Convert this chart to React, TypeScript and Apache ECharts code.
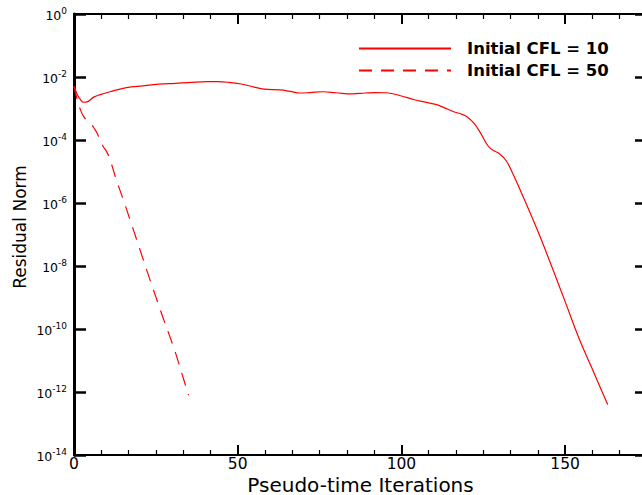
import React, { useEffect, useRef } from 'react';
import * as echarts from 'echarts';

// Initial CFL = 10 (solid)
const cfl10Iter = [0, 1, 2, 3, 4, 6, 8, 11, 16, 21, 26, 31, 36, 41, 44, 47, 51, 55, 58, 63, 66, 69, 72, 76, 80, 85, 89, 92, 95, 97, 100, 104, 107, 109, 111, 113, 116, 118, 120, 122, 124, 126, 127, 128, 130, 132, 134, 136, 139, 142, 146, 150, 154, 158, 161, 163];
const cfl10Residual = [5.1e-3, 2.8e-3, 1.9e-3, 1.58e-3, 1.62e-3, 2.3e-3, 2.75e-3, 3.4e-3, 4.6e-3, 5.25e-3, 5.9e-3, 6.3e-3, 6.8e-3, 7.1e-3, 7.1e-3, 6.8e-3, 6.0e-3, 4.8e-3, 4.1e-3, 3.9e-3, 3.5e-3, 3.1e-3, 3.2e-3, 3.4e-3, 3.16e-3, 2.9e-3, 3.1e-3, 3.2e-3, 3.16e-3, 3.0e-3, 2.5e-3, 1.9e-3, 1.62e-3, 1.45e-3, 1.3e-3, 1.07e-3, 7.9e-4, 6.8e-4, 5.5e-4, 3.55e-4, 1.78e-4, 7.6e-5, 5.6e-5, 4.7e-5, 3.6e-5, 2.2e-5, 8.7e-6, 3.0e-6, 5.8e-7, 1.05e-7, 9.1e-9, 7.4e-10, 5.8e-11, 6.3e-12, 1.2e-12, 4.0e-13];

// Initial CFL = 50 (dashed)
const cfl50Iter = [0, 1, 2, 3, 4, 5, 6, 7, 8, 9, 10, 11, 12, 13, 15, 17, 19, 21, 23, 25, 27, 29, 31, 33, 35];
const cfl50Residual = [5.0e-3, 1.9e-3, 8.9e-4, 5.4e-4, 4.2e-4, 3.5e-4, 2.5e-4, 1.7e-4, 9.5e-5, 6.0e-5, 4.2e-5, 2.4e-5, 1.12e-5, 5.2e-6, 1.32e-6, 3.2e-7, 7.6e-8, 1.78e-8, 4.2e-9, 1.05e-9, 2.6e-10, 6.9e-11, 1.74e-11, 3.7e-12, 7.9e-13];

const seriesNames = ['Initial CFL = 10', 'Initial CFL = 50'];
const xAxisTitle = 'Pseudo-time Iterations';
const yAxisTitle = 'Residual Norm';
const xMin = 0;
const xMax = 175;
const xInterval = 50;
const yMin = 1e-14;
const yMax = 1;
const yDecadeStep = 2;

const FONT = 'DejaVu Sans';

export default function App() {
  const ref = useRef<HTMLDivElement>(null);
  useEffect(() => {
    document.body.style.margin = '0';
    if (!ref.current) return;
    const chart = echarts.init(ref.current, undefined, { renderer: 'svg' });
    const zip = (xs: number[], ys: number[]) => xs.map((x, i) => [x, ys[i]]);
    const xCommon = {
      type: 'value',
      min: xMin,
      max: xMax,
      interval: xInterval,
      axisLine: { show: true, onZero: false, lineStyle: { color: '#000', width: 2 } },
      axisTick: { show: true, inside: true, length: 10, lineStyle: { color: '#000', width: 2 } },
      minorTick: { show: true, splitNumber: 6, length: 5, lineStyle: { color: '#000', width: 1.2 } },
      splitLine: { show: false },
    };
    const yCommon = {
      type: 'log',
      logBase: 10,
      min: yMin,
      max: yMax,
      interval: yDecadeStep,
      axisLine: { show: true, onZero: false, lineStyle: { color: '#000', width: 3 } },
      axisTick: { show: true, inside: true, length: 12, lineStyle: { color: '#000', width: 2.5 } },
      minorTick: { show: false },
      splitLine: { show: false },
    };
    chart.setOption({
      animation: false,
      backgroundColor: '#fff',
      grid: { left: 74, top: 14, width: 573, height: 441, containLabel: false, outerBoundsMode: 'none' },
      legend: {
        data: seriesNames,
        orient: 'vertical',
        left: 358,
        top: 40,
        padding: 0,
        itemWidth: 92,
        itemHeight: 16,
        itemGap: 5,
        itemStyle: { opacity: 0 },
        textStyle: {
          fontFamily: FONT,
          fontWeight: 'bold',
          fontSize: 16.5,
          color: '#000',
          padding: [0, 0, 0, 11],
        },
      },
      xAxis: [
        {
          ...xCommon,
          position: 'bottom',
          name: xAxisTitle,
          nameLocation: 'middle',
          nameGap: 20,
          nameMoveOverlap: false,
          nameTextStyle: { fontFamily: FONT, fontSize: 20, lineHeight: 20, color: '#000' },
          axisLabel: { show: true, margin: 2, lineHeight: 14, showMaxLabel: false, fontFamily: FONT, fontSize: 15.5, color: '#000' },
        },
        {
          ...xCommon,
          position: 'top',
          axisLabel: { show: false },
        },
      ],
      yAxis: [
        {
          ...yCommon,
          position: 'left',
          name: yAxisTitle,
          nameLocation: 'middle',
          nameGap: 46,
          nameRotate: 90,
          nameMoveOverlap: false,
          nameTextStyle: { fontFamily: FONT, fontSize: 17, color: '#000', padding: [0, 0, 0, 15] },
          axisLabel: {
            show: true,
            margin: 7,
            formatter: (v: number) => `{b|10}{s|${Math.round(Math.log10(v))}}`,
            rich: {
              b: { fontFamily: FONT, fontSize: 12.5, lineHeight: 16, verticalAlign: 'bottom', color: '#000' },
              s: { fontFamily: FONT, fontSize: 9, lineHeight: 8, verticalAlign: 'top', color: '#000' },
            },
          },
        },
        {
          ...yCommon,
          position: 'right',
          axisLabel: { show: false },
        },
      ],
      series: [
        {
          name: seriesNames[0],
          type: 'line',
          xAxisIndex: 0,
          yAxisIndex: 0,
          data: zip(cfl10Iter, cfl10Residual),
          symbol: 'none',
          smooth: 0.4,
          lineStyle: { color: '#ff0000', width: 1.2, type: 'solid' },
          itemStyle: { color: '#ff0000' },
        },
        {
          name: seriesNames[1],
          type: 'line',
          xAxisIndex: 0,
          yAxisIndex: 0,
          data: zip(cfl50Iter, cfl50Residual),
          symbol: 'none',
          smooth: 0.4,
          lineStyle: { color: '#ff0000', width: 1.2, type: [13, 9] },
          itemStyle: { color: '#ff0000' },
        },
      ],
    });
    return () => chart.dispose();
  }, []);
  return <div ref={ref} style={{ width: 642, height: 495 }} />;
}
